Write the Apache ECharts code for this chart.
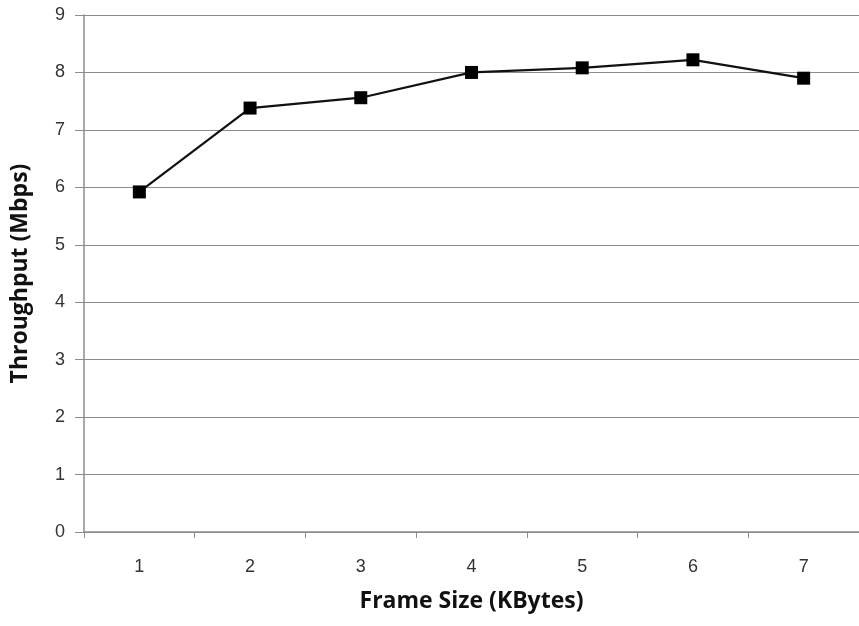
<!DOCTYPE html>
<html>
<head>
<meta charset="utf-8">
<script src="https://cdn.jsdelivr.net/npm/echarts@6/dist/echarts.min.js"></script>
<style>
  html, body { margin: 0; padding: 0; background: #fff; }
  #chart { width: 859px; height: 626px; }
</style>
</head>
<body>
<div id="chart"></div>
<script>
const frameSizes = ['1', '2', '3', '4', '5', '6', '7']
const throughput = [5.92, 7.38, 7.56, 8.0, 8.08, 8.22, 7.9]
const yTicks = { min: 0, max: 9, interval: 1 }

const chart = echarts.init(document.getElementById('chart'), null, { renderer: 'canvas' })

const nameStyle = { fontFamily: 'Open Sans', fontWeight: 'bold', fontSize: 23, color: '#111' }
const labelStyle = { fontFamily: 'Liberation Sans', fontSize: 18, color: '#333' }

chart.setOption({
  animation: false,
  backgroundColor: '#fff',
  grid: { left: 84, top: 15, width: 782, height: 517 },
  xAxis: {
    type: 'category',
    data: frameSizes,
    boundaryGap: true,
    name: 'Frame Size (KBytes)',
    nameLocation: 'middle',
    nameGap: 58,
    nameTextStyle: nameStyle,
    axisLine: { lineStyle: { color: '#8c8c8c', width: 1.5 } },
    axisTick: { show: true, length: 6, lineStyle: { color: '#8c8c8c' } },
    axisLabel: Object.assign({ margin: 26 }, labelStyle)
  },
  yAxis: {
    type: 'value',
    min: yTicks.min,
    max: yTicks.max,
    interval: yTicks.interval,
    name: 'Throughput (Mbps)',
    nameLocation: 'middle',
    nameGap: 52,
    nameTextStyle: nameStyle,
    axisLine: { show: true, lineStyle: { color: '#8c8c8c', width: 1.5 } },
    axisTick: { show: true, length: 9, lineStyle: { color: '#8c8c8c' } },
    axisLabel: Object.assign({ margin: 19 }, labelStyle),
    splitLine: { lineStyle: { color: '#8c8c8c', width: 1.2 } }
  },
  series: [{
    type: 'line',
    data: throughput,
    symbol: 'rect',
    symbolSize: 13,
    itemStyle: { color: '#000' },
    lineStyle: { color: '#111', width: 2.2 }
  }]
})
</script>
</body>
</html>
